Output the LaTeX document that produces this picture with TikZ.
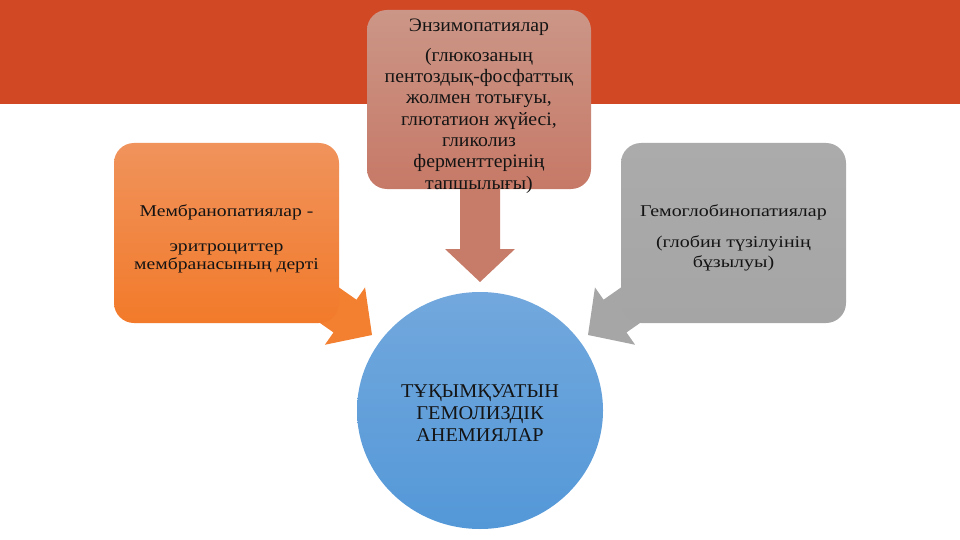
\documentclass[tikz,border=0pt]{standalone}
\usepackage{fontspec}
\setmainfont{Liberation Serif}
\newfontfamily\serifA[FakeStretch=1.04]{Liberation Serif}
\newfontfamily\serifL[FakeStretch=1.19]{Liberation Serif}
\newfontfamily\serifR[FakeStretch=1.21]{Liberation Serif}
\usetikzlibrary{shapes.geometric,calc}
\definecolor{bandred}{RGB}{209,72,37}
\definecolor{topA}{RGB}{203,150,135}
\definecolor{topB}{RGB}{199,121,103}
\definecolor{downarr}{RGB}{198,124,104}
\definecolor{leftA}{RGB}{240,147,92}
\definecolor{leftB}{RGB}{242,122,42}
\definecolor{leftarr}{RGB}{243,127,48}
\definecolor{grayA}{RGB}{171,171,171}
\definecolor{grayB}{RGB}{165,165,165}
\definecolor{grayarr}{RGB}{166,166,166}
\definecolor{circA}{RGB}{114,168,221}
\definecolor{circB}{RGB}{84,152,216}
\definecolor{txt}{RGB}{20,20,20}
\tikzset{
  roundbox/.style={rectangle, rounded corners=20pt, inner sep=0pt},
  boxtext/.style={inner sep=0pt, align=center, text=txt},
  blockarrow/.pic={\fill[pic actions] (0,0) -- (-33,35) -- (-33,20) -- (-140,20) -- (-140,-20) -- (-33,-20) -- (-33,-35) -- cycle;}
}
\begin{document}
\begin{tikzpicture}[x=1pt,y=-1pt]
\useasboundingbox (0,0) rectangle (960,540);
\node[rectangle, fill=bandred, minimum width=960pt, minimum height=104pt, inner sep=0pt, anchor=north west] (band) at (0,0) {};
\node[ellipse, minimum width=246pt, minimum height=237pt, inner sep=0pt, top color=circA, bottom color=circB] (circ) at (480,410.5) {};
\node[boxtext, font=\serifA\fontsize{19.5}{22}\selectfont] (circt) at ($(circ.center)+(0,3)$) {ТҰҚЫМҚУАТЫН\\ГЕМОЛИЗДІК\\АНЕМИЯЛАР};
\pic[fill=downarr, rotate=-90] at ($(circ.center)+(0,-128.5)$) {blockarrow};
\pic[fill=leftarr, rotate=-35] at ($(circ.center)+(-108,-75.5)$) {blockarrow};
\pic[fill=grayarr, rotate=-145] at ($(circ.center)+(108,-75.5)$) {blockarrow};
\node[roundbox, minimum width=224pt, minimum height=179pt, top color=topA, bottom color=topB] (enz) at (479,99.5) {};
\node[boxtext, font=\serifA\fontsize{19}{21.3}\selectfont] (enzt) at ($(enz.center)+(0,6.5)$)
  {Энзимопатиялар\\[8.5pt](глюкозаның\\пентоздық-фосфаттық\\жолмен тотығуы,\\глютатион жүйесі,\\гликолиз\\ферменттерінің\\тапшылығы)};
\node[roundbox, minimum width=225pt, minimum height=180pt, top color=leftA, bottom color=leftB] (mem) at (226.5,233) {};
\node[boxtext, font=\serifL\fontsize{16.5}{17.5}\selectfont] (memt) at ($(mem.center)+(0,6)$)
  {Мембранопатиялар -\\[17.5pt]эритроциттер\\мембранасының дерті};
\node[roundbox, minimum width=225pt, minimum height=180pt, top color=grayA, bottom color=grayB] (gem) at (733.5,233) {};
\node[boxtext, font=\serifR\fontsize{16.5}{20}\selectfont] (gemt) at ($(gem.center)+(0,5)$)
  {Гемоглобинопатиялар\\[11pt](глобин түзілуінің\\бұзылуы)};
\end{tikzpicture}
\end{document}
